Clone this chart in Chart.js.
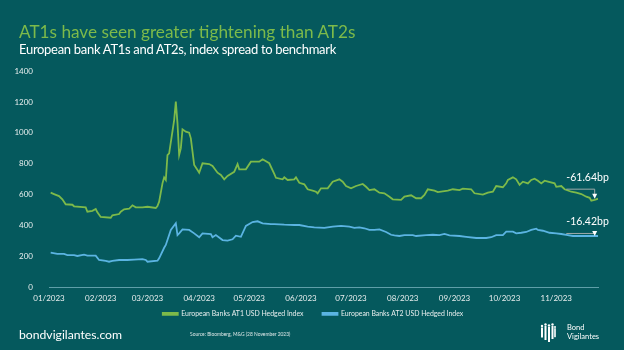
<!DOCTYPE html>
<html lang="en">
<head>
<meta charset="UTF-8">
<title>AT1s have seen greater tightening than AT2s</title>
<script src="https://cdn.jsdelivr.net/npm/chart.js"></script>
<style>
  body { margin: 0; background: #05595d; }
  #wrap { position: relative; width: 624px; height: 350px; overflow: hidden; background: #05595d; font-family: Lato, 'Open Sans', sans-serif; }
  #chart { position: absolute; left: 0; top: 0; }
  .txt { position: absolute; white-space: nowrap; line-height: 1; }
  #title { left: 19px; top: 23px; font-size: 17.2px; color: #7dba4a; }
  #subtitle { left: 19px; top: 43px; font-size: 13px; letter-spacing: -0.3px; color: #ffffff; }
  #site { left: 19px; top: 329px; font-size: 12.2px; color: #ffffff; }
  #source { left: 190px; top: 332px; font-size: 4.9px; color: #dfe8e8; }
  #brand { left: 567px; top: 323px; font-size: 7.5px; color: #ffffff; line-height: 1.2; }
  #logo { position: absolute; left: 540px; top: 323px; }
</style>
</head>
<body>
<div id="wrap">
  <canvas id="chart" width="624" height="350"></canvas>
  <div class="txt" id="title">AT1s have seen greater tightening than AT2s</div>
  <div class="txt" id="subtitle">European bank AT1s and AT2s, index spread to benchmark</div>
  <div class="txt" id="site">bondvigilantes.com</div>
  <div class="txt" id="source">Source: Bloomberg, M&amp;G (28 November 2023)</div>
  <svg id="logo" width="16" height="20" viewBox="0 0 16 20">
    <g fill="#ffffff">
      <circle cx="2" cy="3" r="1.2"/><rect x="1" y="4.5" width="2" height="10"/>
      <circle cx="5.5" cy="1.5" r="1.2"/><rect x="4.5" y="3" width="2" height="14"/>
      <circle cx="9" cy="2.5" r="1.2"/><rect x="8" y="4" width="2" height="15"/>
      <circle cx="12.5" cy="1.5" r="1.2"/><rect x="11.5" y="3" width="2" height="13"/>
      <circle cx="15" cy="4" r="1"/><rect x="14.2" y="5.2" width="1.6" height="9"/>
    </g>
  </svg>
  <div class="txt" id="brand">Bond<br>Vigilantes</div>
</div>
<script>
// days since 1 Jan 2023
const at1Days = [1,3,6,8,10,14,15,22,23,26,28,29,31,37,38,42,43,45,48,50,52,56,59,64,65,66,68,69,70,71,72,75,76,77,78,79,80,82,84,85,87,89,90,92,96,98,101,103,105,107,111,113,114,118,121,126,128,132,135,136,140,141,143,147,148,150,153,155,158,160,161,163,167,170,174,176,178,181,184,188,190,192,195,198,201,204,206,211,213,217,220,223,225,227,231,233,239,242,246,248,253,255,260,263,266,268,272,274,275,278,280,282,284,287,289,291,293,295,297,299,303,304,307,309,313,316,319,322,324,325,327,329];
const at1Values = [614,605,592,571,539,536,526,519,491,497,508,487,457,452,468,476,491,506,510,532,519,519,523,515,528,556,674,713,696,857,868,1083,1202,1062,857,900,1023,1008,1001,965,793,760,743,804,799,786,743,728,700,722,749,799,765,765,814,814,830,804,735,710,700,713,696,700,713,678,668,636,627,620,610,642,642,685,700,685,657,642,657,670,652,631,636,614,610,588,571,567,588,597,578,578,599,636,627,618,627,636,631,640,636,610,601,614,620,657,649,674,696,713,700,664,685,674,696,704,691,674,691,685,674,652,657,636,620,614,605,588,581,562,567,575];

const at2Days = [1,5,9,11,15,17,21,23,28,30,34,36,38,42,47,51,56,58,59,65,66,69,70,73,76,77,78,80,84,87,90,92,97,98,100,104,107,110,112,115,118,122,125,128,133,135,141,147,150,155,159,165,170,175,180,183,186,189,192,195,198,202,205,207,210,213,218,220,226,230,234,237,240,246,250,256,262,265,268,272,274,276,278,280,283,286,289,292,293,296,300,304,307,310,314,318,322,329];
const at2Values = [226,218,218,211,211,205,213,207,207,179,174,168,174,179,179,182,185,179,168,174,190,258,276,373,416,340,351,377,373,351,326,351,347,326,340,308,304,313,336,329,399,424,429,416,411,411,407,405,405,394,390,386,394,399,394,386,390,384,373,373,377,360,342,338,334,340,340,334,340,342,340,347,338,334,329,321,321,326,340,340,362,362,362,351,355,360,373,381,373,368,355,351,347,342,334,334,334,334];

const seriesNames = ['European Banks AT1 USD Hedged Index', 'European Banks AT2 USD Hedged Index'];
const tickDays = [0,31,59,90,120,151,181,212,243,273,304];
const tickLabels = ['01/2023','02/2023','03/2023','04/2023','05/2023','06/2023','07/2023','08/2023','09/2023','10/2023','11/2023'];
// tightening since the reference point, bp
const changes = [-61.64, -16.42];
const changeFromDay = 310;

const green = '#7dba4a';
const blue = '#5bb4e2';
const font = 'Lato, "Open Sans", sans-serif';

const toPoints = (days, vals) => days.map((d, i) => ({ x: d, y: vals[i] }));

// legend sits a bit right of centre and close under the axis labels
const legendPlace = {
  id: 'legendPlace',
  afterLayout(chart) {
    const lg = chart.legend;
    lg.left += 14;
    lg.right += 14;
    lg.top = 291.5;
    lg.bottom = lg.top + lg.height;
  }
};

const changeMarks = {
  id: 'changeMarks',
  afterDatasetsDraw(chart) {
    const { ctx, scales: { x, y } } = chart;
    ctx.save();
    chart.data.datasets.forEach((ds, i) => {
      const last = ds.data[ds.data.length - 1];
      const ref = last.y - changes[i];
      const x0 = x.getPixelForValue(changeFromDay);
      const x1 = x.getPixelForValue(last.x - 2);
      const yRef = y.getPixelForValue(ref);
      const yEnd = y.getPixelForValue(last.y);
      ctx.strokeStyle = '#9eaaa9';
      ctx.lineWidth = 1;
      ctx.beginPath();
      ctx.moveTo(x0, yRef);
      ctx.lineTo(x1, yRef);
      ctx.lineTo(x1, yEnd - 3);
      ctx.stroke();
      ctx.fillStyle = '#ffffff';
      ctx.beginPath();
      ctx.moveTo(x1 - 2.5, yEnd - 5);
      ctx.lineTo(x1 + 2.5, yEnd - 5);
      ctx.lineTo(x1, yEnd);
      ctx.closePath();
      ctx.fill();
      ctx.font = '10.5px ' + font;
      ctx.textBaseline = 'alphabetic';
      ctx.fillText(changes[i].toFixed(2) + 'bp', x0, yRef - 8);
    });
    ctx.restore();
  }
};

new Chart(document.getElementById('chart'), {
  type: 'line',
  data: {
    datasets: [
      { label: seriesNames[0], data: toPoints(at1Days, at1Values), borderColor: green, backgroundColor: green, borderWidth: 1.8, pointRadius: 0, tension: 0 },
      { label: seriesNames[1], data: toPoints(at2Days, at2Values), borderColor: blue, backgroundColor: blue, borderWidth: 1.8, pointRadius: 0, tension: 0 }
    ]
  },
  options: {
    responsive: false,
    animation: false,
    layout: { padding: { top: 71, right: 26, bottom: 8.4, left: 0 } },
    plugins: {
      legend: {
        position: 'bottom',
        labels: { color: '#e8eeee', boxWidth: 15, boxHeight: 2, padding: 19, font: { family: font, size: 6.9 } }
      },
      tooltip: { enabled: false }
    },
    scales: {
      x: {
        type: 'linear',
        min: 0,
        max: 329,
        grid: { display: false, drawTicks: false },
        border: { color: '#5f9fa8', width: 1 },
        afterBuildTicks: s => { s.ticks = tickDays.map(v => ({ value: v })); },
        afterFit: s => { s.height = 18; },
        ticks: {
          color: '#e8eeee',
          padding: 6,
          maxRotation: 0,
          autoSkip: false,
          font: { family: font, size: 8 },
          callback: v => tickLabels[tickDays.indexOf(v)]
        }
      },
      y: {
        min: 0,
        max: 1400,
        grid: { display: false },
        border: { display: false },
        afterFit: s => { s.width = 49; },
        ticks: { stepSize: 200, padding: 8, color: '#e8eeee', font: { family: font, size: 8 }, callback: v => String(v) }
      }
    }
  },
  plugins: [changeMarks, legendPlace]
});
</script>
</body>
</html>
